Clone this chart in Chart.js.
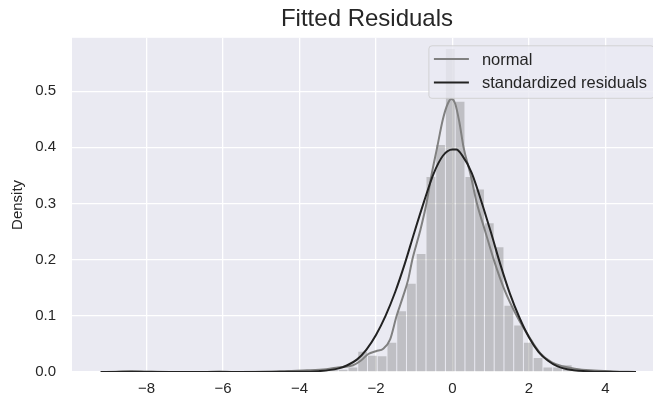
<!DOCTYPE html>
<html>
<head>
<meta charset="utf-8">
<script src="https://cdn.jsdelivr.net/npm/chart.js@4"></script>
<style>
  html, body { margin: 0; padding: 0; overflow: hidden; background: #fff; }
  canvas { display: block; }
</style>
</head>
<body>
<canvas id="residChart" width="662" height="406"></canvas>
<script>
// histogram of the residuals (bin centres and density)
const histCenters = [-3.624, -3.114, -2.860, -2.605, -2.350, -2.095, -1.840, -1.585, -1.330, -1.075,
                     -0.820, -0.565, -0.311, -0.056, 0.199, 0.454, 0.709, 0.964, 1.219, 1.474,
                     1.729, 1.984, 2.239, 2.493, 2.748, 3.003, 3.258];
const histDensity = [0.004, 0.004, 0.004, 0.008, 0.036, 0.029, 0.028, 0.052, 0.108, 0.157,
                     0.210, 0.347, 0.404, 0.575, 0.481, 0.347, 0.325, 0.265, 0.222, 0.118,
                     0.083, 0.052, 0.025, 0.008, 0.008, 0.012, 0.004];

// grey curve ("normal" in the legend)
const kdeX = [-9.2, -8.8, -8.4, -8.0, -7.4, -6.5, -6.1, -5.7, -4.8, -4.3, -3.8, -3.3, -3.0, -2.6,
              -2.4, -2.2, -2.0, -1.8, -1.63, -1.46, -1.29, -1.16, -1.05, -0.85, -0.68, -0.55,
              -0.4, -0.25, -0.12, -0.03, 0.07, 0.18, 0.29, 0.46, 0.64, 0.85, 1.08, 1.35, 1.68,
              2.0, 2.3, 2.6, 2.9, 3.2, 3.6, 4.2, 4.8];
const kdeY = [0, 0.0005, 0.002, 0.001, 0, 0, 0.001, 0, 0.0005, 0.002, 0.003, 0.005, 0.008, 0.012,
              0.02, 0.032, 0.037, 0.042, 0.058, 0.1, 0.135, 0.164, 0.2, 0.25, 0.3, 0.35,
              0.4, 0.45, 0.478, 0.486, 0.478, 0.445, 0.4, 0.355, 0.3, 0.252, 0.2, 0.148, 0.1,
              0.063, 0.033, 0.017, 0.01, 0.006, 0.003, 0.001, 0];

// dark curve ("standardized residuals" in the legend)
const normX = [-9.2, -6.0, -4.0, -3.5, -3.0, -2.75, -2.5, -2.25, -2.0, -1.75, -1.5, -1.25, -1.0,
               -0.75, -0.5, -0.25, 0.0, 0.1, 0.25, 0.5, 0.75, 1.0, 1.25, 1.5, 1.75, 2.0, 2.25,
               2.5, 2.75, 3.0, 3.5, 4.0, 4.8];
const normY = [0, 0, 0.0003, 0.0015, 0.006, 0.012, 0.022, 0.04, 0.066, 0.1, 0.142, 0.192, 0.248,
               0.302, 0.352, 0.385, 0.396, 0.396, 0.386, 0.355, 0.305, 0.25, 0.192, 0.14, 0.097,
               0.062, 0.036, 0.02, 0.01, 0.005, 0.0015, 0.0003, 0];

const xTicks = [-8, -6, -4, -2, 0, 2, 4];
const yTicks = [0, 0.1, 0.2, 0.3, 0.4, 0.5];
const seriesLabels = ['normal', 'standardized residuals'];

const FONT = '"Liberation Sans", Arial, sans-serif';
const TEXT = '#262626';

// grauer Hintergrund der Zeichenfläche
const plotBackground = {
  id: 'plotBackground',
  beforeDraw(chart) {
    const { ctx, chartArea: a } = chart;
    ctx.save();
    ctx.fillStyle = '#EAEAF2';
    ctx.fillRect(a.left, a.top, a.right - a.left, a.bottom - a.top);
    ctx.restore();
  }
};

// legend box inside the plot, upper right
const boxLegend = {
  id: 'boxLegend',
  afterDraw(chart) {
    const { ctx, chartArea: a } = chart;
    const items = chart.data.datasets.filter(d => d.type === 'line');
    ctx.save();
    ctx.font = '16.5px ' + FONT;
    const textW = Math.max(...items.map(d => ctx.measureText(d.label).width));
    const right = a.right - 8, top = a.top + 8;
    const w = 60 + textW, h = 52.5;
    const left = right - w;
    ctx.beginPath();
    ctx.roundRect(left, top, w, h, 3);
    ctx.fillStyle = 'rgba(234,234,242,0.8)';
    ctx.fill();
    ctx.strokeStyle = 'rgba(204,204,204,0.8)';
    ctx.lineWidth = 1;
    ctx.stroke();
    items.forEach((d, i) => {
      const y = top + 13.3 + i * 23.4;
      ctx.beginPath();
      ctx.moveTo(left + 5, y);
      ctx.lineTo(left + 40, y);
      ctx.strokeStyle = d.borderColor;
      ctx.lineWidth = d.borderWidth;
      ctx.stroke();
      ctx.fillStyle = TEXT;
      ctx.textBaseline = 'middle';
      ctx.fillText(d.label, left + 53, y + 1);
    });
    ctx.restore();
  }
};

const ctx = document.getElementById('residChart').getContext('2d');
new Chart(ctx, {
  type: 'line',
  data: {
    datasets: [
      {
        type: 'bar',
        label: 'hist',
        data: histCenters.map((x, i) => ({ x: x, y: histDensity[i] })),
        backgroundColor: 'rgba(128,128,128,0.4)',
        borderWidth: 0,
        barPercentage: 0.9,
        categoryPercentage: 1,
        order: 3
      },
      {
        type: 'line',
        label: seriesLabels[0],
        data: kdeX.map((x, i) => ({ x: x, y: kdeY[i] })),
        borderColor: '#808080',
        borderWidth: 2,
        pointRadius: 0,
        cubicInterpolationMode: 'monotone',
        order: 2
      },
      {
        type: 'line',
        label: seriesLabels[1],
        data: normX.map((x, i) => ({ x: x, y: normY[i] })),
        borderColor: '#222222',
        borderWidth: 2,
        pointRadius: 0,
        cubicInterpolationMode: 'monotone',
        order: 1
      }
    ]
  },
  options: {
    responsive: false,
    animation: false,
    layout: { padding: 0 },
    plugins: {
      legend: { display: false },
      tooltip: { enabled: false },
      title: {
        display: true,
        text: 'Fitted Residuals',
        color: TEXT,
        fullSize: false,
        font: { family: FONT, size: 24, weight: 'normal' },
        padding: { top: 5, bottom: 4 }
      }
    },
    scales: {
      x: {
        type: 'linear',
        min: -9.95,
        max: 5.48,
        offset: false,
        afterFit(scale) { scale.height = 34; },
        afterBuildTicks(scale) { scale.ticks = xTicks.map(v => ({ value: v })); },
        grid: { color: '#ffffff', lineWidth: 1.3, drawTicks: false, offset: false },
        border: { display: false },
        ticks: {
          color: TEXT,
          padding: 8,
          font: { family: FONT, size: 15 },
          callback: v => (v < 0 ? '\u2212' + Math.abs(v) : String(v))
        }
      },
      y: {
        min: 0,
        max: 0.595,
        afterFit(scale) { scale.width = 72; },
        afterBuildTicks(scale) { scale.ticks = yTicks.map(v => ({ value: v })); },
        grid: { color: '#ffffff', lineWidth: 1.3, drawTicks: false },
        border: { display: false },
        title: {
          display: true,
          text: 'Density',
          color: TEXT,
          font: { family: FONT, size: 15 },
          padding: { top: 9, bottom: 0 }
        },
        ticks: {
          color: TEXT,
          padding: 16,
          font: { family: FONT, size: 15 },
          callback: v => v.toFixed(1)
        }
      }
    }
  },
  plugins: [plotBackground, boxLegend]
});
</script>
</body>
</html>
